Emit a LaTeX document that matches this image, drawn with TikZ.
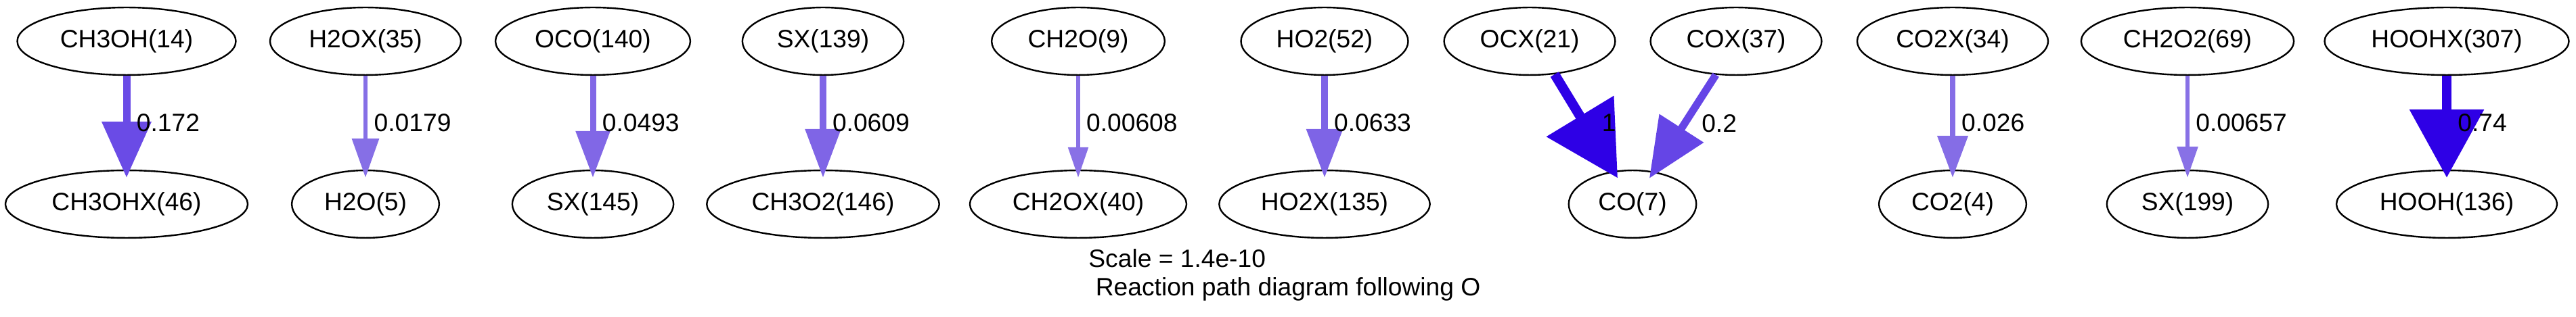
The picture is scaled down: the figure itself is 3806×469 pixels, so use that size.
\documentclass[tikz,border=0pt]{standalone}
\usepackage{fontspec}
\setmainfont{Liberation Sans}
\usetikzlibrary{shapes.geometric,arrows.meta}
\definecolor{f1000}{HTML}{2E00E6}
\definecolor{f0740}{HTML}{2E00E6}
\definecolor{f0200}{HTML}{6545E6}
\definecolor{f0172}{HTML}{6A4BE6}
\definecolor{f0633}{HTML}{7E64E6}
\definecolor{f0609}{HTML}{7F65E6}
\definecolor{f0493}{HTML}{8167E6}
\definecolor{f0260}{HTML}{856DE6}
\definecolor{f0179}{HTML}{866FE6}
\definecolor{f0066}{HTML}{8871E6}
\definecolor{f0061}{HTML}{8971E6}
\begin{document}
\begin{tikzpicture}
      [x=0.5pt,y=-0.5pt,auto,
      every node/.append style={font=\fontsize{18.6}{21}\selectfont,inner sep=4.7pt},
      species node/.style={ellipse,draw,line width=1.2pt,inner xsep=8pt,inner ysep=9pt},
      flux/.style n args={4}{draw=#1,line width=#2,-{Triangle[length=#3,width=#4]},shorten >=-6pt}]
      \useasboundingbox (0,0) rectangle (3806,469);
      \node[species node] (ch3oh) at (187,61) {CH3OH(14)};
      \node[species node] (ch3ohx) at (187,302) {CH3OHX(46)};
      \node[species node] (h2ox) at (540,61) {H2OX(35)};
      \node[species node] (h2o) at (540,302) {H2O(5)};
      \node[species node] (oco) at (876,61) {OCO(140)};
      \node[species node] (sxa) at (876,302) {SX(145)};
      \node[species node] (sxb) at (1216,61) {SX(139)};
      \node[species node] (ch3o2) at (1216,302) {CH3O2(146)};
      \node[species node] (ch2o) at (1593,61) {CH2O(9)};
      \node[species node] (ch2ox) at (1593,302) {CH2OX(40)};
      \node[species node] (ho2) at (1957,61) {HO2(52)};
      \node[species node] (ho2x) at (1957,302) {HO2X(135)};
      \node[species node] (ocx) at (2260,61) {OCX(21)};
      \node[species node] (cox) at (2565,61) {COX(37)};
      \node[species node] (co) at (2412,302) {CO(7)};
      \node[species node] (co2x) at (2885,61) {CO2X(34)};
      \node[species node] (co2) at (2885,302) {CO2(4)};
      \node[species node] (ch2o2) at (3232,61) {CH2O2(69)};
      \node[species node] (sxc) at (3232,302) {SX(199)};
      \node[species node] (hoohx) at (3615,61) {HOOHX(307)};
      \node[species node] (hooh) at (3615,302) {HOOH(136)};
      \path (ch3oh) edge[flux={f0172}{5.5pt}{41.5pt}{35.5pt}] node {0.172} (ch3ohx);
      \path (h2ox) edge[flux={f0179}{3.3pt}{29pt}{19.5pt}] node {0.0179} (h2o);
      \path (oco) edge[flux={f0493}{4.5pt}{34.5pt}{24.5pt}] node {0.0493} (sxa);
      \path (sxb) edge[flux={f0609}{4.6pt}{36pt}{25.5pt}] node {0.0609} (ch3o2);
      \path (ch2o) edge[flux={f0061}{2.7pt}{22.5pt}{14.5pt}] node {0.00608} (ch2ox);
      \path (ho2) edge[flux={f0633}{4.7pt}{36pt}{26pt}] node {0.0633} (ho2x);
      \path (ocx.-53) edge[flux={f1000}{7.2pt}{53.5pt}{56.5pt}] node[auto=false,anchor=west,xshift=5pt] {1} (co.120);
      \path (cox.-121) edge[flux={f0200}{5.6pt}{44pt}{37.5pt}] node[auto=false,anchor=west,xshift=5pt] {0.2} (co.57);
      \path (co2x) edge[flux={f0260}{3.7pt}{31pt}{22pt}] node {0.026} (co2);
      \path (ch2o2) edge[flux={f0066}{2.9pt}{23pt}{15pt}] node {0.00657} (sxc);
      \path (hoohx) edge[flux={f0740}{7pt}{50.5pt}{53.5pt}] node {0.74} (hooh);
      \node[anchor=north west,inner sep=0pt,align=left] (title) at (1608,368)
        {Scale = 1.4e-10\\\hspace*{0.28em}Reaction path diagram following O};
    \end{tikzpicture}
\end{document}
